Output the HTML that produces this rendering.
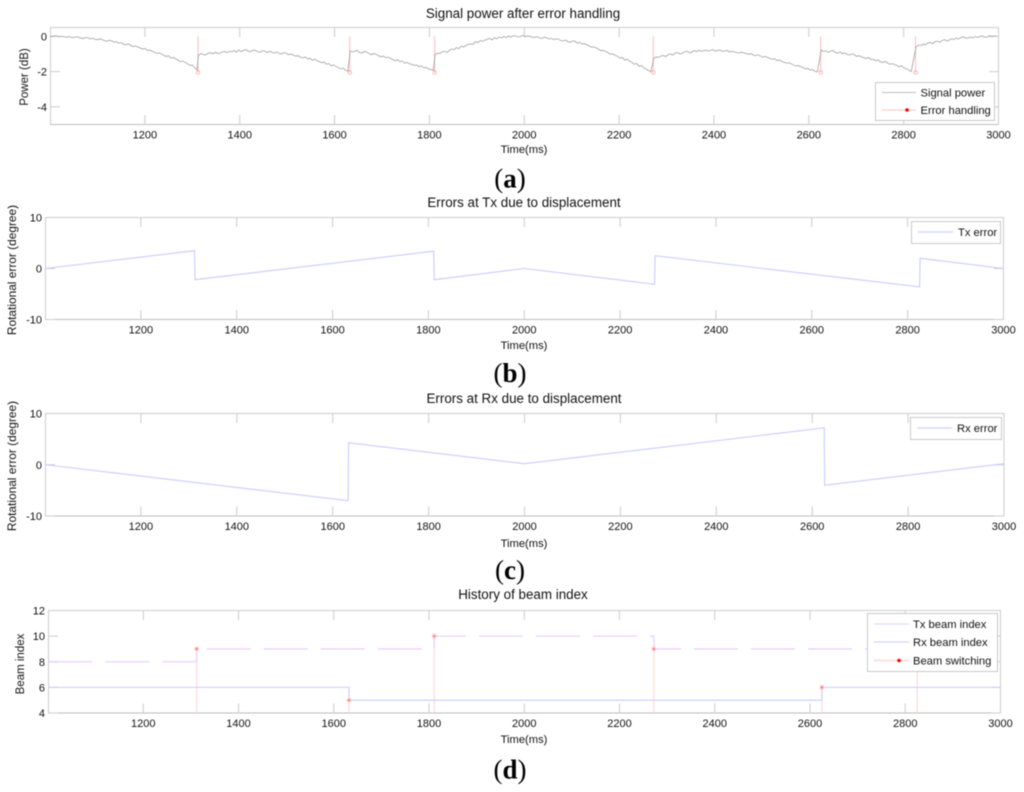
<!DOCTYPE html>
<html lang="en">
<head>
<meta charset="utf-8">
<title>Signal power, errors and beam index</title>
<style>
html,body{margin:0;padding:0;background:#fff;}
svg{display:block;filter:blur(0.4px);}
text{font-family:"Liberation Sans",Arial,sans-serif;fill:#111;}
.title{font-size:13.4px;text-anchor:middle;}
.xlabel{font-size:11.2px;text-anchor:middle;}
.ylabel{font-size:11.9px;text-anchor:middle;}
.tick{font-size:11px;}
.legend-text{font-size:11.2px;}
.panel-label{font-family:"Liberation Serif","Times New Roman",serif;font-size:27px;text-anchor:middle;fill:#000;}
.legend-box{fill:#fff;stroke:#c8c8c8;stroke-width:1;}
</style>
</head>
<body>
<svg id="figure" xmlns="http://www.w3.org/2000/svg" width="1024" height="792" viewBox="0 0 1024 792">
  <rect x="0" y="0" width="1024" height="792" fill="#fff"/>

  <g id="panel-a">
    <text class="title" x="523" y="18">Signal power after error handling</text>
    <g id="panel-a-plot"></g>
    <text class="xlabel" x="524" y="153">Time(ms)</text>
    <text class="ylabel" transform="translate(28,77) rotate(-90)" style="font-size:11.5px">Power (dB)</text>
    <g>
      <rect class="legend-box" x="875.5" y="82.5" width="119" height="38"/>
      <line x1="882" x2="916" y1="92.5" y2="92.5" stroke="#bcbcbc" stroke-width="1"/>
      <text class="legend-text" x="920.5" y="96.5">Signal power</text>
      <line x1="882" x2="916" y1="110" y2="110" stroke="#ffc4c4" stroke-width="1"/>
      <circle cx="907" cy="110" r="1.8" fill="#f00"/>
      <text class="legend-text" x="920.5" y="114">Error handling</text>
    </g>
    <text class="panel-label" x="510" y="187.5">(<tspan font-weight="bold">a</tspan>)</text>
  </g>

  <g id="panel-b">
    <text class="title" x="524" y="207">Errors at Tx due to displacement</text>
    <g id="panel-b-plot"></g>
    <text class="xlabel" x="524" y="349">Time(ms)</text>
    <text class="ylabel" transform="translate(16,270) rotate(-90)">Rotational error (degree)</text>
    <g>
      <rect class="legend-box" x="911.5" y="221.5" width="89" height="22"/>
      <line x1="918" x2="953" y1="232" y2="232" stroke="#ccd0ff" stroke-width="1.2"/>
      <text class="legend-text" x="958" y="236">Tx error</text>
    </g>
    <text class="panel-label" x="510" y="382">(<tspan font-weight="bold">b</tspan>)</text>
  </g>

  <g id="panel-c">
    <text class="title" x="524" y="403">Errors at Rx due to displacement</text>
    <g id="panel-c-plot"></g>
    <text class="xlabel" x="524" y="547">Time(ms)</text>
    <text class="ylabel" transform="translate(16,466) rotate(-90)">Rotational error (degree)</text>
    <g>
      <rect class="legend-box" x="910.5" y="417.5" width="91" height="22"/>
      <line x1="917" x2="952" y1="428" y2="428" stroke="#ccd0ff" stroke-width="1.2"/>
      <text class="legend-text" x="957" y="432">Rx error</text>
    </g>
    <text class="panel-label" x="510" y="579">(<tspan font-weight="bold">c</tspan>)</text>
  </g>

  <g id="panel-d">
    <text class="title" x="523" y="599">History of beam index</text>
    <g id="panel-d-plot"></g>
    <text class="xlabel" x="524" y="743">Time(ms)</text>
    <text class="ylabel" transform="translate(24,664) rotate(-90)" style="font-size:11.5px">Beam index</text>
    <g>
      <rect class="legend-box" x="867.5" y="613.5" width="130" height="58"/>
      <line x1="874" x2="909" y1="624" y2="624" stroke="#ecd4ff" stroke-width="1.2"/>
      <text class="legend-text" x="913" y="628">Tx beam index</text>
      <line x1="874" x2="909" y1="642" y2="642" stroke="#d0d4ff" stroke-width="1.2"/>
      <text class="legend-text" x="913" y="646">Rx beam index</text>
      <line x1="874" x2="909" y1="660.5" y2="660.5" stroke="#ffd0d0" stroke-width="1.2"/>
      <circle cx="899" cy="660.5" r="1.8" fill="#f00"/>
      <text class="legend-text" x="913" y="664.5">Beam switching</text>
    </g>
    <text class="panel-label" x="510" y="778.5">(<tspan font-weight="bold">d</tspan>)</text>
  </g>
</svg>

<script>
// ---- shared axis values ----
const xTicks = [1200, 1400, 1600, 1800, 2000, 2200, 2400, 2600, 2800, 3000];
const powerYTicks = [0, -2, -4];
const errorYTicks = [-10, 0, 10];
const beamYTicks = [4, 6, 8, 10, 12];

// ---- panel (a) signal power, read every 5 ms within each run between error events ----
const powerStep = 5;
const powerRunStarts = [1000, 1313, 1633, 1812, 2273, 2626, 2826];
const powerRun1 = [0.02,-0.02,0.03,0.01,-0.03,0.00,-0.03,-0.05,-0.02,-0.06,
  -0.07,-0.03,-0.05,-0.10,-0.12,-0.07,-0.09,-0.14,-0.11,-0.17,
  -0.19,-0.15,-0.18,-0.25,-0.27,-0.22,-0.26,-0.33,-0.31,-0.39,
  -0.36,-0.45,-0.48,-0.42,-0.52,-0.58,-0.55,-0.60,-0.66,-0.72,
  -0.69,-0.80,-0.78,-0.83,-0.90,-0.97,-0.94,-1.00,-1.08,-1.14,
  -1.10,-1.24,-1.20,-1.27,-1.35,-1.44,-1.40,-1.48,-1.56,-1.65,
  -1.62,-1.78,-1.90];
const powerRun2 = [-1.08,-0.98,-1.03,-1.06,-0.96,-0.93,-0.99,-0.91,-0.95,-0.98,
  -0.88,-0.86,-0.92,-0.84,-0.88,-0.80,-0.90,-0.78,-0.86,-0.80,
  -0.76,-0.84,-0.88,-0.78,-0.80,-0.87,-0.90,-0.82,-0.84,-0.92,
  -0.85,-0.90,-0.95,-0.88,-0.97,-1.00,-0.92,-0.96,-1.05,-1.00,
  -1.06,-1.12,-1.10,-1.18,-1.22,-1.17,-1.28,-1.24,-1.36,-1.30,
  -1.38,-1.44,-1.50,-1.46,-1.58,-1.55,-1.67,-1.63,-1.70,-1.78,
  -1.85,-1.80,-1.92,-1.97];
const powerRun3 = [-0.82,-0.88,-0.84,-0.80,-0.92,-0.95,-0.86,-0.90,-0.98,-1.04,
  -0.98,-1.02,-1.10,-1.16,-1.12,-1.22,-1.18,-1.25,-1.32,-1.38,
  -1.32,-1.44,-1.40,-1.52,-1.48,-1.55,-1.60,-1.65,-1.62,-1.72,
  -1.68,-1.78,-1.76,-1.85,-1.88,-1.92];
const powerRun4 = [-1.04,-0.95,-0.98,-0.88,-0.84,-0.92,-0.80,-0.72,-0.76,-0.64,
  -0.70,-0.56,-0.60,-0.52,-0.46,-0.42,-0.46,-0.30,-0.36,-0.24,
  -0.28,-0.22,-0.16,-0.12,-0.20,-0.08,-0.14,-0.04,-0.09,-0.01,
  -0.07,0.02,-0.04,0.03,0.01,-0.03,-0.01,0.05,-0.03,0.02,
  0.00,-0.05,-0.06,-0.02,-0.09,-0.12,-0.05,-0.08,-0.15,-0.11,
  -0.19,-0.14,-0.17,-0.24,-0.26,-0.21,-0.30,-0.34,-0.26,-0.29,
  -0.38,-0.34,-0.45,-0.42,-0.48,-0.55,-0.62,-0.60,-0.66,-0.74,
  -0.82,-0.80,-0.86,-0.94,-1.02,-1.00,-1.08,-1.14,-1.24,-1.20,
  -1.35,-1.30,-1.40,-1.48,-1.58,-1.54,-1.70,-1.66,-1.78,-1.86,
  -1.94,-2.00];
const powerRun5 = [-1.26,-1.17,-1.20,-1.12,-1.08,-1.15,-1.04,-1.00,-1.06,-0.96,
  -0.92,-1.00,-0.96,-0.88,-0.84,-0.92,-0.90,-0.81,-0.87,-0.79,
  -0.85,-0.82,-0.78,-0.84,-0.79,-0.76,-0.85,-0.80,-0.78,-0.86,
  -0.83,-0.80,-0.89,-0.84,-0.88,-0.92,-0.94,-0.90,-0.93,-0.98,
  -1.02,-0.98,-1.06,-1.10,-1.04,-1.12,-1.18,-1.14,-1.20,-1.26,
  -1.30,-1.27,-1.38,-1.34,-1.42,-1.48,-1.52,-1.50,-1.56,-1.63,
  -1.68,-1.66,-1.72,-1.78,-1.84,-1.82,-1.92,-1.88,-1.99,-2.02];
const powerRun6 = [-0.78,-0.86,-0.82,-0.90,-0.84,-0.80,-0.92,-0.95,-0.88,-0.99,
  -0.95,-1.03,-1.06,-0.99,-1.04,-1.14,-1.10,-1.16,-1.22,-1.26,
  -1.20,-1.32,-1.30,-1.38,-1.34,-1.44,-1.48,-1.42,-1.52,-1.58,
  -1.55,-1.60,-1.66,-1.72,-1.68,-1.80,-1.84,-1.92,-2.00];
const powerRun7 = [-0.60,-0.50,-0.52,-0.44,-0.48,-0.38,-0.34,-0.42,-0.30,-0.28,
  -0.33,-0.24,-0.19,-0.26,-0.22,-0.14,-0.18,-0.10,-0.15,-0.07,
  -0.03,-0.11,-0.09,-0.05,-0.08,-0.02,-0.06,-0.01,0.02,-0.05,
  -0.04,0.04,-0.02,0.03,-0.01];
const errorEventTimes = [1312, 1632, 1811, 2272, 2625, 2825];
const errorEventValues = [-2.05, -2.05, -2.05, -2.05, -2.05, -2.05];

// ---- panel (b) Tx rotational error ----
const txErrorTimes = [1001, 1312, 1313, 1811, 1812, 2000, 2272, 2273, 2825, 2826, 3000];
const txErrorValues = [0, 3.5, -2.2, 3.4, -2.2, 0, -3.1, 2.5, -3.6, 2.0, 0];

// ---- panel (c) Rx rotational error ----
const rxErrorTimes = [1001, 1632, 1633, 2000, 2625, 2626, 3000];
const rxErrorValues = [0, -7.0, 4.3, 0.2, 7.2, -4.0, 0.2];

// ---- panel (d) beam indices ----
const txBeamTimes = [1001, 1312, 1811, 2272, 2825, 3000];
const txBeamValues = [8, 9, 10, 9, 8, 8];
const rxBeamTimes = [1001, 1632, 2625, 3000];
const rxBeamValues = [6, 5, 6, 6];
const switchTimes = [1312, 1632, 1811, 2272, 2625, 2825];
const switchValues = [9, 5, 10, 9, 6, 8];

const SVGNS = 'http://www.w3.org/2000/svg';

function make(parent, tag, attrs, content) {
  const node = document.createElementNS(SVGNS, tag);
  for (const key in attrs) node.setAttribute(key, attrs[key]);
  if (content !== undefined) node.textContent = content;
  parent.appendChild(node);
  return node;
}

function scaleLinear(d0, d1, r0, r1) {
  return function (v) { return r0 + (v - d0) * (r1 - r0) / (d1 - d0); };
}

function drawAxes(group, box, yDomain, yTicks, prefix) {
  const xScale = scaleLinear(1001, 3000, box.left, box.right);
  const yScale = scaleLinear(yDomain[0], yDomain[1], box.bottom, box.top);
  const frame = make(group, 'rect', {x: box.left, y: box.top, width: box.right - box.left, height: box.bottom - box.top, fill: 'none', stroke: '#cdcdcd', 'stroke-width': 1});
  
  
  const base = make(group, 'line', {x1: box.left, x2: box.right, y1: box.bottom, y2: box.bottom, stroke: '#bdbdbd', 'stroke-width': 1});
  
  
  xTicks.forEach(function (t) {
    const x = xScale(t);
    const low = make(group, 'line', {x1: x, x2: x, y1: box.bottom, y2: box.bottom - 9.5, stroke: '#cfcfcf', 'stroke-width': 1.1});
    
    
    const high = make(group, 'line', {x1: x, x2: x, y1: box.top, y2: box.top + 9.5, stroke: '#cfcfcf', 'stroke-width': 1.1});
    
    
    const label = make(group, 'text', {class: 'tick', x: x, y: box.bottom + 14, 'text-anchor': 'middle'}, String(t));
    
    
  });
  yTicks.forEach(function (t) {
    const y = yScale(t);
    const left = make(group, 'line', {x1: box.left, x2: box.left + 9.5, y1: y, y2: y, stroke: '#cfcfcf', 'stroke-width': 1.1});
    
    
    const right = make(group, 'line', {x1: box.right, x2: box.right - 9.5, y1: y, y2: y, stroke: '#cfcfcf', 'stroke-width': 1.1});
    
    
    const label = make(group, 'text', {class: 'tick', x: box.left - 3.5, y: y + 4, 'text-anchor': 'end'}, String(t));
    
    
  });
  return {x: xScale, y: yScale};
}

function linePath(times, values, sx, sy) {
  return times.map(function (t, i) {
    return (i ? 'L' : 'M') + sx(t).toFixed(2) + ' ' + sy(values[i]).toFixed(2);
  }).join('');
}

function stepPath(times, values, sx, sy) {
  let d = 'M' + sx(times[0]).toFixed(2) + ' ' + sy(values[0]).toFixed(2);
  for (let i = 1; i < times.length; i++) {
    d += 'L' + sx(times[i]).toFixed(2) + ' ' + sy(values[i - 1]).toFixed(2);
    d += 'L' + sx(times[i]).toFixed(2) + ' ' + sy(values[i]).toFixed(2);
  }
  return d;
}

// ---- panel a ----
(function () {
  const group = document.getElementById('panel-a-plot');
  const s = drawAxes(group, {left: 50.5, right: 998.5, top: 27.5, bottom: 124.5}, [-5, 0.5], powerYTicks, 'signal-power');
  const runs = [powerRun1, powerRun2, powerRun3, powerRun4, powerRun5, powerRun6, powerRun7];
  const times = [];
  const values = [];
  runs.forEach(function (run, r) {
    run.forEach(function (v, i) {
      times.push(powerRunStarts[r] + i * powerStep);
      values.push(v);
    });
  });
  errorEventTimes.forEach(function (t, i) {
    const stem = make(group, 'line', {x1: s.x(t), x2: s.x(t), y1: s.y(0), y2: s.y(errorEventValues[i]), stroke: '#ffbcbc', 'stroke-width': 1});
    
    
    const marker = make(group, 'circle', {cx: s.x(t), cy: s.y(errorEventValues[i]), r: 1.8, fill: 'none', stroke: '#ffaaaa', 'stroke-width': 0.8});
    
    
  });
  const series = make(group, 'path', {d: linePath(times, values, s.x, s.y), fill: 'none', stroke: '#a0a0a0', 'stroke-width': 0.8});
  
  
})();

// ---- panel b ----
(function () {
  const group = document.getElementById('panel-b-plot');
  const s = drawAxes(group, {left: 45.5, right: 1003.5, top: 217.5, bottom: 319.5}, [-10, 10], errorYTicks, 'tx-error');
  const series = make(group, 'path', {d: linePath(txErrorTimes, txErrorValues, s.x, s.y), fill: 'none', stroke: '#c8ccff', 'stroke-width': 1.1});
  
  
})();

// ---- panel c ----
(function () {
  const group = document.getElementById('panel-c-plot');
  const s = drawAxes(group, {left: 45.5, right: 1004, top: 413.5, bottom: 516}, [-10, 10], errorYTicks, 'rx-error');
  const series = make(group, 'path', {d: linePath(rxErrorTimes, rxErrorValues, s.x, s.y), fill: 'none', stroke: '#c8ccff', 'stroke-width': 1.1});
  
  
})();

// ---- panel d ----
(function () {
  const group = document.getElementById('panel-d-plot');
  const s = drawAxes(group, {left: 48.5, right: 1000.5, top: 610.5, bottom: 713}, [4, 12], beamYTicks, 'beam-index');
  switchTimes.forEach(function (t, i) {
    const stem = make(group, 'line', {x1: s.x(t), x2: s.x(t), y1: s.y(4), y2: s.y(switchValues[i]), stroke: '#ffd4d4', 'stroke-width': 1});
    
    
  });
  const tx = make(group, 'path', {d: stepPath(txBeamTimes, txBeamValues, s.x, s.y), fill: 'none', stroke: '#e6c8ff', 'stroke-width': 1.1, 'stroke-dasharray': '44 13'});
  
  
  const rx = make(group, 'path', {d: stepPath(rxBeamTimes, rxBeamValues, s.x, s.y), fill: 'none', stroke: '#c8ccff', 'stroke-width': 1.1});
  
  
  switchTimes.forEach(function (t, i) {
    const halo = make(group, 'circle', {cx: s.x(t), cy: s.y(switchValues[i]), r: 2.4, fill: '#ffc8c8'});
    
    
    const dot = make(group, 'circle', {cx: s.x(t), cy: s.y(switchValues[i]), r: 0.8, fill: '#f04040'});
    
    
  });
})();
</script>
</body>
</html>
